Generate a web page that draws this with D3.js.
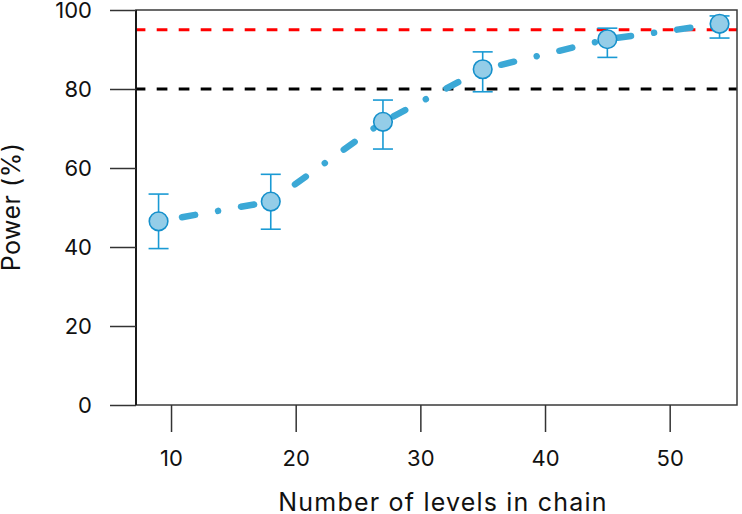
<!DOCTYPE html>
<html>
<head>
<meta charset="utf-8">
<script src="https://cdn.jsdelivr.net/npm/d3@7"></script>
<style>
  html, body { margin: 0; padding: 0; background: #fff; }
  svg { display: block; font-family: Inter, "Open Sans", sans-serif; }
</style>
</head>
<body>
<svg id="chart" width="742" height="514"></svg>
<script>
// ---- data ----
const levels = [9, 18, 27, 35, 45, 54];
const power = [46.5, 51.5, 71.7, 85.0, 92.6, 96.5];
const lower = [39.6, 44.5, 64.8, 79.3, 88.0, 92.9];
const upper = [53.4, 58.4, 77.2, 89.4, 95.4, 98.5];
const xTicks = [10, 20, 30, 40, 50];
const yTicks = [0, 20, 40, 60, 80, 100];
const refLines = [95, 80];
const refColors = ["#ff0000", "#000000"];
const xLabel = "Number of levels in chain";
const yLabel = "Power (%)";

// ---- layout ----
const svg = d3.select("#chart");
const L = 136, R = 737, T = 10, B = 405;
const x = d3.scaleLinear().domain([7.19, 55.4]).range([L, R]);
const y = d3.scaleLinear().domain([0, 100]).range([B, T]);

const defs = svg.append("defs");
defs.append("clipPath").attr("id", "plotclip")
  .append("rect").attr("x", L).attr("y", T).attr("width", R - L).attr("height", B - T);

// reference lines
svg.append("g").attr("clip-path", "url(#plotclip)")
  .selectAll("line").data(refLines).join("line")
  .attr("x1", L - 1.3).attr("x2", R)
  .attr("y1", d => y(d)).attr("y2", d => y(d))
  .attr("stroke", (d, i) => refColors[i])
  .attr("stroke-width", 3)
  .attr("stroke-dasharray", "10.7 11.3");

// dash-dot line
const pts = levels.map((d, i) => [x(d), y(power[i])]);
svg.append("path")
  .attr("d", d3.line()(pts))
  .attr("fill", "none")
  .attr("stroke", "#3ba8d6")
  .attr("stroke-width", 6.5)
  .attr("stroke-linecap", "round")
  .attr("stroke-linejoin", "round")
  .attr("stroke-dasharray", "13.3 23.3 0.01 23.3")
  .attr("stroke-dashoffset", 36.1);

// error bars
const eb = svg.append("g").attr("stroke", "#1a9ad4").attr("stroke-width", 1.6).attr("fill", "none");
levels.forEach((d, i) => {
  const cx = x(d);
  eb.append("line").attr("x1", cx).attr("x2", cx).attr("y1", y(lower[i])).attr("y2", y(upper[i]));
  eb.append("line").attr("x1", cx - 10).attr("x2", cx + 10).attr("y1", y(lower[i])).attr("y2", y(lower[i]));
  eb.append("line").attr("x1", cx - 10).attr("x2", cx + 10).attr("y1", y(upper[i])).attr("y2", y(upper[i]));
});

// points
svg.append("g").selectAll("circle").data(levels).join("circle")
  .attr("cx", d => x(d)).attr("cy", (d, i) => y(power[i]))
  .attr("r", 9.3)
  .attr("fill", "#94cde8")
  .attr("stroke", "#1590cb")
  .attr("stroke-width", 1.6);

// box
svg.append("rect").attr("x", L).attr("y", T).attr("width", R - L).attr("height", B - T)
  .attr("fill", "none").attr("stroke", "#3a3a3a").attr("stroke-width", 1.5);
svg.append("line").attr("x1", L).attr("x2", L).attr("y1", T).attr("y2", B)
  .attr("stroke", "#111").attr("stroke-width", 1.8);

// y axis
const yAxis = svg.append("g").attr("transform", `translate(${L},0)`)
  .call(d3.axisLeft(y).tickValues(yTicks).tickSize(26).tickPadding(18).tickFormat(d3.format("d")));
yAxis.select(".domain").remove();
yAxis.selectAll(".tick line").attr("stroke", "#333").attr("stroke-width", 1.5);
yAxis.selectAll(".tick text").attr("font-size", 22).attr("font-family", "Inter, sans-serif").attr("fill", "#111");

// x axis
const xAxis = svg.append("g").attr("transform", `translate(0,${B})`)
  .call(d3.axisBottom(x).tickValues(xTicks).tickSize(27).tickPadding(18).tickFormat(d3.format("d")));
xAxis.select(".domain").remove();
xAxis.selectAll(".tick line").attr("stroke", "#333").attr("stroke-width", 1.5);
xAxis.selectAll(".tick text").attr("font-size", 22).attr("font-family", "Inter, sans-serif").attr("fill", "#111");

// labels
svg.append("text").attr("x", 443).attr("y", 511)
  .attr("text-anchor", "middle").attr("font-size", 25).attr("letter-spacing", 1.2)
  .attr("fill", "#111").text(xLabel);
svg.append("text").attr("transform", "translate(20,207) rotate(-90)")
  .attr("text-anchor", "middle").attr("font-size", 25).attr("letter-spacing", 0.5)
  .attr("fill", "#111").text(yLabel);
</script>
</body>
</html>
